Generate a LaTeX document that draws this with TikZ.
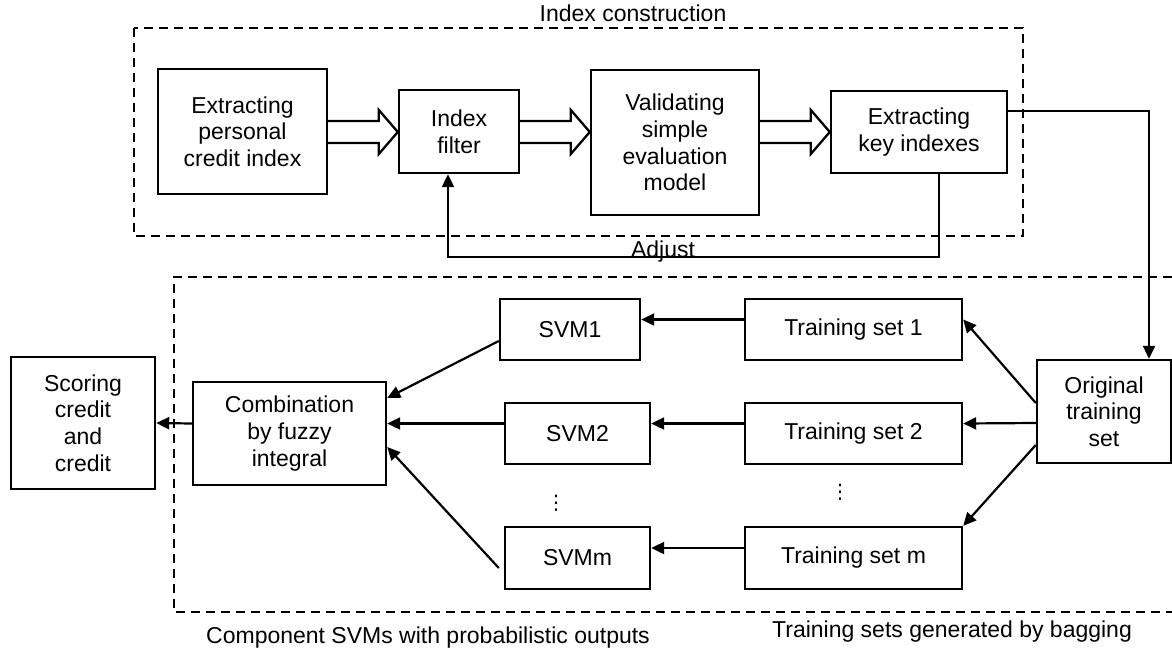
\documentclass[tikz,border=0pt]{standalone}
\usepackage{fontspec}
\setmainfont{Liberation Sans}
\newfontfamily\dejavu{DejaVu Sans}
\usetikzlibrary{arrows.meta,calc}
\newcommand\hollowarrow[2]{%
  \draw[conn, line width=2.3pt, line join=miter] (#1.east |- 0,121) -- ($(#2.west |- 0,121)+(-19,0)$) -- ++(0,-11)
    -- (#2.west |- 0,132) -- ($(#2.west |- 0,154)+(-19,0)$) -- ++(0,-11) -- (#1.east |- 0,143);}
\begin{document}
\begin{tikzpicture}[x=1pt,y=-1pt,
  every node/.style={font=\fontsize{23}{26.7}\selectfont},
  box/.style={draw, line width=2.4pt, inner sep=0pt, align=center},
  conn/.style={line width=2.2pt},
  arr/.style={conn, -{Triangle[length=13pt,width=12pt]}},
  dashbox/.style={line width=2.1pt, dash pattern=on 9pt off 6pt}]
\useasboundingbox[fill=white] (0,0) rectangle (1172,651);

% dashed frames
\draw[dashbox] (134,28) rectangle (1023,236);
\draw[dashbox] (1172,277) -- (174,277) -- (174,612) -- (1172,612);

% titles
\node[anchor=base] (ttop) at (633,21) {Index construction};
\node[anchor=base] (tsvm) at (428,643) {Component SVMs with probabilistic outputs};
\node[anchor=base] (tbag) at (952,637) {Training sets generated by bagging};

% top row
\node[box, minimum width=169pt, minimum height=125pt] (ext) at (242.5,131.5) {Extracting\\personal\\credit index};
\node[box, minimum width=120pt, minimum height=83pt] (filt) at (459,131.5) {Index\\filter};
\node[box, minimum width=168pt, minimum height=145pt] (val) at (675,142.5) {Validating\\simple\\evaluation\\model};
\node[box, minimum width=176pt, minimum height=82pt] (key) at (919,132) {Extracting\\key indexes};

\hollowarrow{ext}{filt}
\hollowarrow{filt}{val}
\hollowarrow{val}{key}

% feedback
\draw[arr] ([xshift=20pt]key.south) -- ++(0,83) -| ([xshift=-11pt]filt.south);
\node[anchor=base] (adj) at (663,257) {Adjust};

% lower part
\node[box, minimum width=134pt, minimum height=103pt] (orig) at (1104,411.5) {Original\\training\\set};
\draw[arr] ([yshift=21pt]key.east) -| ([xshift=45pt]orig.north);

\node[box, minimum width=217pt, minimum height=61pt] (ts1) at (853.5,329.5) {Training set 1};
\node[box, minimum width=217pt, minimum height=61pt] (ts2) at (853.5,433.5) {Training set 2};
\node[box, minimum width=217pt, minimum height=62pt] (tsm) at (853.5,558) {Training set m};

\node[box, minimum width=140pt, minimum height=61pt] (svm1) at (570,329.5) {SVM1};
\node[box, minimum width=145pt, minimum height=61pt] (svm2) at (577.5,433.5) {SVM2};
\node[box, minimum width=145pt, minimum height=62pt] (svmm) at (577.5,558) {SVMm};

\node[box, minimum width=193pt, minimum height=103pt] (comb) at (289.5,433.5) {Combination\\by fuzzy\\integral};
\node[box, minimum width=144pt, minimum height=132pt] (score) at (83,423) {Scoring\\credit\\and\\credit};

\node[font=\dejavu\fontsize{20}{24}\selectfont] (dots1) at (556,503) {⋮};
\node[font=\dejavu\fontsize{20}{24}\selectfont] (dots2) at (840,492) {⋮};

\draw[arr] ([yshift=8.5pt]orig.west) -- ([yshift=10pt]ts1.east);
\draw[arr] ([yshift=-11.5pt]orig.west) -- ([yshift=10pt]ts2.east);
\draw[arr] ([yshift=-33.5pt]orig.west) -- (tsm.north east);

\draw[arr] ([yshift=10pt]ts1.west) -- ([yshift=10pt]svm1.east);
\draw[arr] ([yshift=10pt]ts2.west) -- ([yshift=10pt]svm2.east);
\draw[arr] ([yshift=10pt]tsm.west) -- ([yshift=10pt]svmm.east);

\draw[arr] ([yshift=-11.5pt]svm1.west) -- ([yshift=35.5pt]comb.east);
\draw[arr] ([yshift=10pt]svm2.west) -- ([yshift=10pt]comb.east);
\draw[arr] ([shift={(-5pt,-10pt)}]svmm.west) -- ([yshift=-13.5pt]comb.east);

\draw[arr] ([yshift=10pt]comb.west) -- (score.east);
\end{tikzpicture}
\end{document}
